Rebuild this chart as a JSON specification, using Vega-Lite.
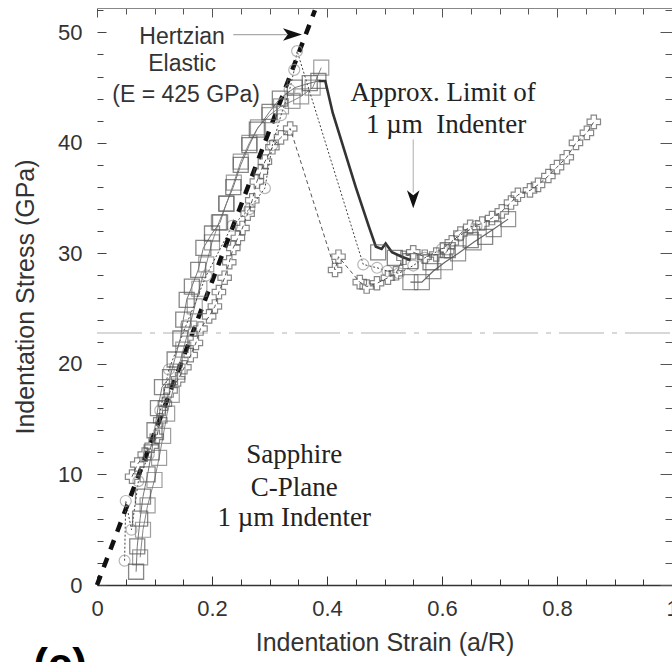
{
  "$schema": "https://vega.github.io/schema/vega-lite/v6.json",
  "width": 575,
  "height": 577,
  "autosize": {"type": "none"},
  "padding": {"left": 97, "top": 8, "right": 0, "bottom": 77},
  "background": "white",
  "config": {
    "view": {"stroke": null},
    "font": "Liberation Sans"
  },
  "datasets": {
    "hertz": [{"s": 0, "g": 0}, {"s": 0.379, "g": 52}],
    "hline": [{"s": 0, "g": 22.8}, {"s": 1, "g": 22.8}],
    "sq1": [
      {"s": 0.068, "g": 1.2}, {"s": 0.07, "g": 3.5}, {"s": 0.075, "g": 6.0}, {"s": 0.08, "g": 8.0},
      {"s": 0.088, "g": 10.0}, {"s": 0.095, "g": 12.0}, {"s": 0.1, "g": 14.0}, {"s": 0.106, "g": 16.0},
      {"s": 0.113, "g": 17.9}, {"s": 0.127, "g": 18.8}, {"s": 0.135, "g": 20.4}, {"s": 0.145, "g": 22.3},
      {"s": 0.15, "g": 24.0}, {"s": 0.156, "g": 25.8}, {"s": 0.165, "g": 27.0}, {"s": 0.176, "g": 28.5},
      {"s": 0.185, "g": 30.5}, {"s": 0.2, "g": 31.8}, {"s": 0.214, "g": 32.8}, {"s": 0.225, "g": 34.5},
      {"s": 0.237, "g": 36.0}, {"s": 0.25, "g": 38.0}, {"s": 0.265, "g": 39.8}, {"s": 0.278, "g": 41.2},
      {"s": 0.3, "g": 42.8}, {"s": 0.318, "g": 44.0}, {"s": 0.344, "g": 45.0}, {"s": 0.37, "g": 45.4},
      {"s": 0.385, "g": 45.6}
    ],
    "drop": [
      {"s": 0.385, "g": 45.6}, {"s": 0.397, "g": 45.6}, {"s": 0.41, "g": 42.7}, {"s": 0.45, "g": 36.0},
      {"s": 0.473, "g": 32.4}, {"s": 0.485, "g": 30.6}, {"s": 0.495, "g": 30.4}, {"s": 0.502, "g": 30.9},
      {"s": 0.513, "g": 30.1}, {"s": 0.53, "g": 29.7}, {"s": 0.545, "g": 29.4}
    ],
    "sq1b": [
      {"s": 0.489, "g": 30.1}, {"s": 0.518, "g": 29.6}, {"s": 0.545, "g": 29.3}, {"s": 0.58, "g": 29.2},
      {"s": 0.61, "g": 30.3}, {"s": 0.65, "g": 31.2}, {"s": 0.675, "g": 31.5}
    ],
    "sq2": [
      {"s": 0.075, "g": 2.5}, {"s": 0.08, "g": 5.0}, {"s": 0.088, "g": 7.2}, {"s": 0.1, "g": 9.5},
      {"s": 0.108, "g": 11.5}, {"s": 0.115, "g": 13.5}, {"s": 0.122, "g": 15.5}, {"s": 0.13, "g": 17.2},
      {"s": 0.14, "g": 19.3}, {"s": 0.15, "g": 21.3}, {"s": 0.16, "g": 23.2}, {"s": 0.17, "g": 25.2},
      {"s": 0.178, "g": 26.8}, {"s": 0.19, "g": 29.0}, {"s": 0.2, "g": 31.0}, {"s": 0.212, "g": 32.8},
      {"s": 0.225, "g": 34.5}, {"s": 0.238, "g": 36.4}, {"s": 0.25, "g": 38.3}, {"s": 0.265, "g": 40.0},
      {"s": 0.28, "g": 41.4}, {"s": 0.3, "g": 42.5}, {"s": 0.32, "g": 43.3}, {"s": 0.34, "g": 43.8},
      {"s": 0.355, "g": 44.2}, {"s": 0.375, "g": 45.0}, {"s": 0.39, "g": 46.8}
    ],
    "sq3": [
      {"s": 0.545, "g": 27.4}, {"s": 0.565, "g": 27.4}, {"s": 0.585, "g": 28.4}, {"s": 0.605, "g": 29.2},
      {"s": 0.628, "g": 30.0}, {"s": 0.655, "g": 31.0}, {"s": 0.69, "g": 32.2}, {"s": 0.715, "g": 33.1}
    ],
    "circ": [
      {"s": 0.048, "g": 2.2}, {"s": 0.06, "g": 5.0}, {"s": 0.05, "g": 7.6}, {"s": 0.072, "g": 9.4},
      {"s": 0.09, "g": 11.8}, {"s": 0.11, "g": 15.8}, {"s": 0.125, "g": 19.5}, {"s": 0.155, "g": 23.5},
      {"s": 0.19, "g": 28.0}, {"s": 0.235, "g": 32.5}, {"s": 0.265, "g": 34.0}, {"s": 0.292, "g": 35.9},
      {"s": 0.305, "g": 39.8}, {"s": 0.32, "g": 42.5}, {"s": 0.335, "g": 44.8}, {"s": 0.343, "g": 46.6},
      {"s": 0.348, "g": 48.3}, {"s": 0.463, "g": 29.0}, {"s": 0.487, "g": 28.7}, {"s": 0.505, "g": 28.4},
      {"s": 0.525, "g": 28.2}, {"s": 0.55, "g": 28.9}, {"s": 0.57, "g": 29.6}, {"s": 0.6, "g": 30.4},
      {"s": 0.63, "g": 31.6}, {"s": 0.66, "g": 32.5}
    ],
    "cross": [
      {"s": 0.061, "g": 9.8}, {"s": 0.07, "g": 10.9}, {"s": 0.083, "g": 11.8}, {"s": 0.095, "g": 12.6},
      {"s": 0.104, "g": 13.4}, {"s": 0.11, "g": 14.9}, {"s": 0.118, "g": 16.4}, {"s": 0.128, "g": 17.6},
      {"s": 0.141, "g": 18.6}, {"s": 0.152, "g": 19.7}, {"s": 0.163, "g": 20.8}, {"s": 0.172, "g": 21.9},
      {"s": 0.18, "g": 23.2}, {"s": 0.195, "g": 24.3}, {"s": 0.205, "g": 25.2}, {"s": 0.212, "g": 26.5},
      {"s": 0.222, "g": 27.8}, {"s": 0.23, "g": 29.2}, {"s": 0.237, "g": 30.5}, {"s": 0.245, "g": 31.4},
      {"s": 0.253, "g": 32.3}, {"s": 0.262, "g": 33.6}, {"s": 0.27, "g": 34.8}, {"s": 0.278, "g": 36.5},
      {"s": 0.285, "g": 37.4}, {"s": 0.292, "g": 38.3}, {"s": 0.305, "g": 39.6}, {"s": 0.32, "g": 40.5},
      {"s": 0.336, "g": 41.3}, {"s": 0.42, "g": 29.7}, {"s": 0.414, "g": 28.5}, {"s": 0.457, "g": 27.4},
      {"s": 0.469, "g": 27.0}, {"s": 0.487, "g": 27.3}, {"s": 0.506, "g": 27.8}, {"s": 0.52, "g": 28.2},
      {"s": 0.533, "g": 29.6}, {"s": 0.55, "g": 30.1}, {"s": 0.57, "g": 29.7}, {"s": 0.59, "g": 29.9},
      {"s": 0.609, "g": 30.2}, {"s": 0.617, "g": 31.0}, {"s": 0.632, "g": 31.8}, {"s": 0.649, "g": 32.4},
      {"s": 0.67, "g": 32.7}, {"s": 0.687, "g": 33.2}, {"s": 0.704, "g": 33.8}, {"s": 0.72, "g": 34.6},
      {"s": 0.732, "g": 35.3}, {"s": 0.753, "g": 35.7}, {"s": 0.767, "g": 36.2}, {"s": 0.785, "g": 37.0},
      {"s": 0.8, "g": 37.8}, {"s": 0.817, "g": 38.7}, {"s": 0.833, "g": 40.0}, {"s": 0.852, "g": 40.9},
      {"s": 0.864, "g": 41.9}
    ],
    "sansText": [
      {"s": 0.148, "g": 49.6, "t": "Hertzian"},
      {"s": 0.148, "g": 47.1, "t": "Elastic"},
      {"s": 0.155, "g": 44.3, "t": "(E = 425 GPa)"}
    ],
    "serifText": [
      {"s": 0.602, "g": 44.5, "t": "Approx. Limit of"},
      {"s": 0.607, "g": 41.6, "t": "1 µm\u00a0 Indenter"},
      {"s": 0.343, "g": 11.76, "t": "Sapphire"},
      {"s": 0.343, "g": 8.78, "t": "C-Plane"},
      {"s": 0.343, "g": 6.06, "t": "1 µm Indenter"}
    ],
    "arrowH": [{"s": 0.237, "g": 49.8}, {"s": 0.33, "g": 49.8}],
    "arrowV": [{"s": 0.55, "g": 40.3}, {"s": 0.55, "g": 35.5}]
  },
  "layer": [
    {
      "layer": [
        {
          "data": {"name": "hertz"},
          "mark": {"type": "line", "color": "#111", "strokeWidth": 4.5, "strokeDash": [10, 9]},
          "encoding": {
            "x": {"field": "s", "type": "quantitative", "scale": {"domain": [0, 1], "nice": false},
              "axis": {
                "orient": "bottom",
                "title": "Indentation Strain (a/R)",
                "values": [0, 0.2, 0.4, 0.6, 0.8, 1],
                "format": "~g",
                "tickSize": -9,
                "labelPadding": 22,
                "labelFontSize": 22,
                "labelColor": "#333",
                "labelFont": "Liberation Sans",
                "labelFlush": false,
                "labelOverlap": false,
                "tickColor": "#333",
                "domainColor": "#333",
                "domainWidth": 1.5,
                "grid": false,
                "titleFontSize": 25,
                "titleFontWeight": "normal",
                "titleColor": "#333",
                "titleFont": "Liberation Sans",
                "titlePadding": 11
              }},
            "y": {"field": "g", "type": "quantitative", "scale": {"domain": [0, 52.2], "nice": false},
              "axis": {
                "orient": "left",
                "title": "Indentation Stress (GPa)",
                "values": [0, 10, 20, 30, 40, 50],
                "tickSize": -9,
                "labelPadding": 24,
                "labelFontSize": 22,
                "labelColor": "#333",
                "labelFont": "Liberation Sans",
                "labelFlush": false,
                "labelOverlap": false,
                "tickColor": "#444",
                "domain": false,
                "grid": false,
                "titleFontSize": 25,
                "titleFontWeight": "normal",
                "titleColor": "#333",
                "titleFont": "Liberation Sans",
                "titlePadding": 19
              }}
          }
        },
        {
          "data": {"name": "hline"},
          "mark": {"type": "line", "color": "#cccccc", "strokeWidth": 1.3, "strokeDash": [45, 8, 5, 8]},
          "encoding": {"x": {"field": "s", "type": "quantitative"}, "y": {"field": "g", "type": "quantitative"}}
        },
        {
          "data": {"name": "sq2"},
          "mark": {"type": "line", "color": "#888", "strokeWidth": 1},
          "encoding": {"x": {"field": "s", "type": "quantitative"}, "y": {"field": "g", "type": "quantitative"}}
        },
        {
          "data": {"name": "sq2"},
          "mark": {"type": "point", "shape": "square", "size": 225, "filled": false, "stroke": "#777", "strokeWidth": 1.2},
          "encoding": {"x": {"field": "s", "type": "quantitative"}, "y": {"field": "g", "type": "quantitative"}}
        },
        {
          "data": {"name": "sq3"},
          "mark": {"type": "line", "color": "#666", "strokeWidth": 1.2},
          "encoding": {"x": {"field": "s", "type": "quantitative"}, "y": {"field": "g", "type": "quantitative"}}
        },
        {
          "data": {"name": "sq3"},
          "mark": {"type": "point", "shape": "square", "size": 225, "filled": false, "stroke": "#666", "strokeWidth": 1.2},
          "encoding": {"x": {"field": "s", "type": "quantitative"}, "y": {"field": "g", "type": "quantitative"}}
        },
        {
          "data": {"name": "circ"},
          "mark": {"type": "line", "color": "#444", "strokeWidth": 1, "strokeDash": [2, 2]},
          "encoding": {"x": {"field": "s", "type": "quantitative"}, "y": {"field": "g", "type": "quantitative"}}
        },
        {
          "data": {"name": "circ"},
          "mark": {"type": "point", "shape": "circle", "size": 120, "filled": false, "stroke": "#999", "strokeWidth": 1.2},
          "encoding": {"x": {"field": "s", "type": "quantitative"}, "y": {"field": "g", "type": "quantitative"}}
        },
        {
          "data": {"name": "cross"},
          "mark": {"type": "line", "color": "#555", "strokeWidth": 1, "strokeDash": [4, 3]},
          "encoding": {"x": {"field": "s", "type": "quantitative"}, "y": {"field": "g", "type": "quantitative"}}
        },
        {
          "data": {"name": "cross"},
          "mark": {"type": "point", "shape": "cross", "size": 180, "filled": false, "stroke": "#555", "strokeWidth": 1.2},
          "encoding": {"x": {"field": "s", "type": "quantitative"}, "y": {"field": "g", "type": "quantitative"}}
        },
        {
          "data": {"name": "sq1"},
          "mark": {"type": "line", "color": "#777", "strokeWidth": 1},
          "encoding": {"x": {"field": "s", "type": "quantitative"}, "y": {"field": "g", "type": "quantitative"}}
        },
        {
          "data": {"name": "sq1"},
          "mark": {"type": "point", "shape": "square", "size": 225, "filled": false, "stroke": "#555", "strokeWidth": 1.3},
          "encoding": {"x": {"field": "s", "type": "quantitative"}, "y": {"field": "g", "type": "quantitative"}}
        },
        {
          "data": {"name": "drop"},
          "mark": {"type": "line", "color": "#333", "strokeWidth": 2.6},
          "encoding": {"x": {"field": "s", "type": "quantitative"}, "y": {"field": "g", "type": "quantitative"}}
        },
        {
          "data": {"name": "sq1b"},
          "mark": {"type": "point", "shape": "square", "size": 225, "filled": false, "stroke": "#555", "strokeWidth": 1.3},
          "encoding": {"x": {"field": "s", "type": "quantitative"}, "y": {"field": "g", "type": "quantitative"}}
        },
        {
          "data": {"name": "arrowH"},
          "mark": {"type": "line", "color": "#aaa", "strokeWidth": 1.2},
          "encoding": {"x": {"field": "s", "type": "quantitative"}, "y": {"field": "g", "type": "quantitative"}}
        },
        {
          "data": {"values": [{"s": 0.34, "g": 49.8}]},
          "mark": {"type": "point", "shape": "M-1,-0.65L1,0L-1,0.65L-0.5,0Z", "size": 361, "filled": true, "color": "#111", "opacity": 1},
          "encoding": {"x": {"field": "s", "type": "quantitative"}, "y": {"field": "g", "type": "quantitative"}}
        },
        {
          "data": {"name": "arrowV"},
          "mark": {"type": "line", "color": "#bbb", "strokeWidth": 1.2},
          "encoding": {"x": {"field": "s", "type": "quantitative"}, "y": {"field": "g", "type": "quantitative"}}
        },
        {
          "data": {"values": [{"s": 0.55, "g": 34.9}]},
          "mark": {"type": "point", "shape": "M-0.7,-1L0,1L0.7,-1L0,-0.45Z", "size": 324, "filled": true, "color": "#111", "opacity": 1},
          "encoding": {"x": {"field": "s", "type": "quantitative"}, "y": {"field": "g", "type": "quantitative"}}
        },
        {
          "data": {"name": "sansText"},
          "mark": {"type": "text", "font": "Liberation Sans", "fontSize": 23, "color": "#333", "align": "center", "baseline": "middle"},
          "encoding": {"x": {"field": "s", "type": "quantitative"}, "y": {"field": "g", "type": "quantitative"}, "text": {"field": "t"}}
        },
        {
          "data": {"name": "serifText"},
          "mark": {"type": "text", "font": "Liberation Serif", "fontSize": 27, "color": "#222", "align": "center", "baseline": "middle"},
          "encoding": {"x": {"field": "s", "type": "quantitative"}, "y": {"field": "g", "type": "quantitative"}, "text": {"field": "t"}}
        },
        {
          "data": {"values": [{"s": -0.111, "g": -5.3, "t": "(c)"}]},
          "mark": {"type": "text", "font": "Liberation Sans", "fontSize": 44, "fontWeight": "bold", "color": "#000", "align": "left", "baseline": "top"},
          "encoding": {"x": {"field": "s", "type": "quantitative"}, "y": {"field": "g", "type": "quantitative"}, "text": {"field": "t"}}
        }
      ]
    },
    {
      "data": {"values": [{"s": 0, "g": 0}]},
      "mark": {"type": "point", "opacity": 0},
      "encoding": {
        "x": {"field": "s", "type": "quantitative",
          "axis": {
            "orient": "bottom", "title": null, "labels": false, "domain": false,
            "values": [0.05, 0.1, 0.15, 0.25, 0.3, 0.35, 0.45, 0.5, 0.55, 0.65, 0.7, 0.75, 0.85, 0.9, 0.95],
            "tickSize": -6, "tickColor": "#333", "grid": false
          }},
        "y": {"field": "g", "type": "quantitative",
          "axis": {
            "orient": "left", "title": null, "labels": false, "domain": false,
            "values": [2, 4, 6, 8, 12, 14, 16, 18, 22, 24, 26, 28, 32, 34, 36, 38, 42, 44, 46, 48, 52],
            "tickSize": -6, "tickColor": "#444", "grid": false
          }}
      }
    },
    {
      "data": {"values": [{"s": 0, "g": 0}]},
      "mark": {"type": "point", "opacity": 0},
      "encoding": {
        "x": {"field": "s", "type": "quantitative",
          "axis": {
            "orient": "top", "title": null, "labels": false,
            "values": [0, 0.05, 0.1, 0.15, 0.2, 0.25, 0.3, 0.35, 0.4, 0.45, 0.5, 0.55, 0.6, 0.65, 0.7, 0.75, 0.8, 0.85, 0.9, 0.95, 1],
            "tickSize": {"condition": {"test": "abs(datum.value*5 - round(datum.value*5)) < 0.001", "value": -9}, "value": -6},
            "tickColor": "#555", "domainColor": "#888", "grid": false
          }},
        "y": {"field": "g", "type": "quantitative",
          "axis": {
            "orient": "right", "title": null, "labels": false,
            "values": [0, 2, 4, 6, 8, 10, 12, 14, 16, 18, 20, 22, 24, 26, 28, 30, 32, 34, 36, 38, 40, 42, 44, 46, 48, 50, 52],
            "tickSize": {"condition": {"test": "datum.value % 10 === 0", "value": -12}, "value": -7},
            "tickColor": "#555", "domainColor": "#888", "grid": false
          }}
      }
    }
  ],
  "resolve": {"axis": {"x": "independent", "y": "independent"}}
}
